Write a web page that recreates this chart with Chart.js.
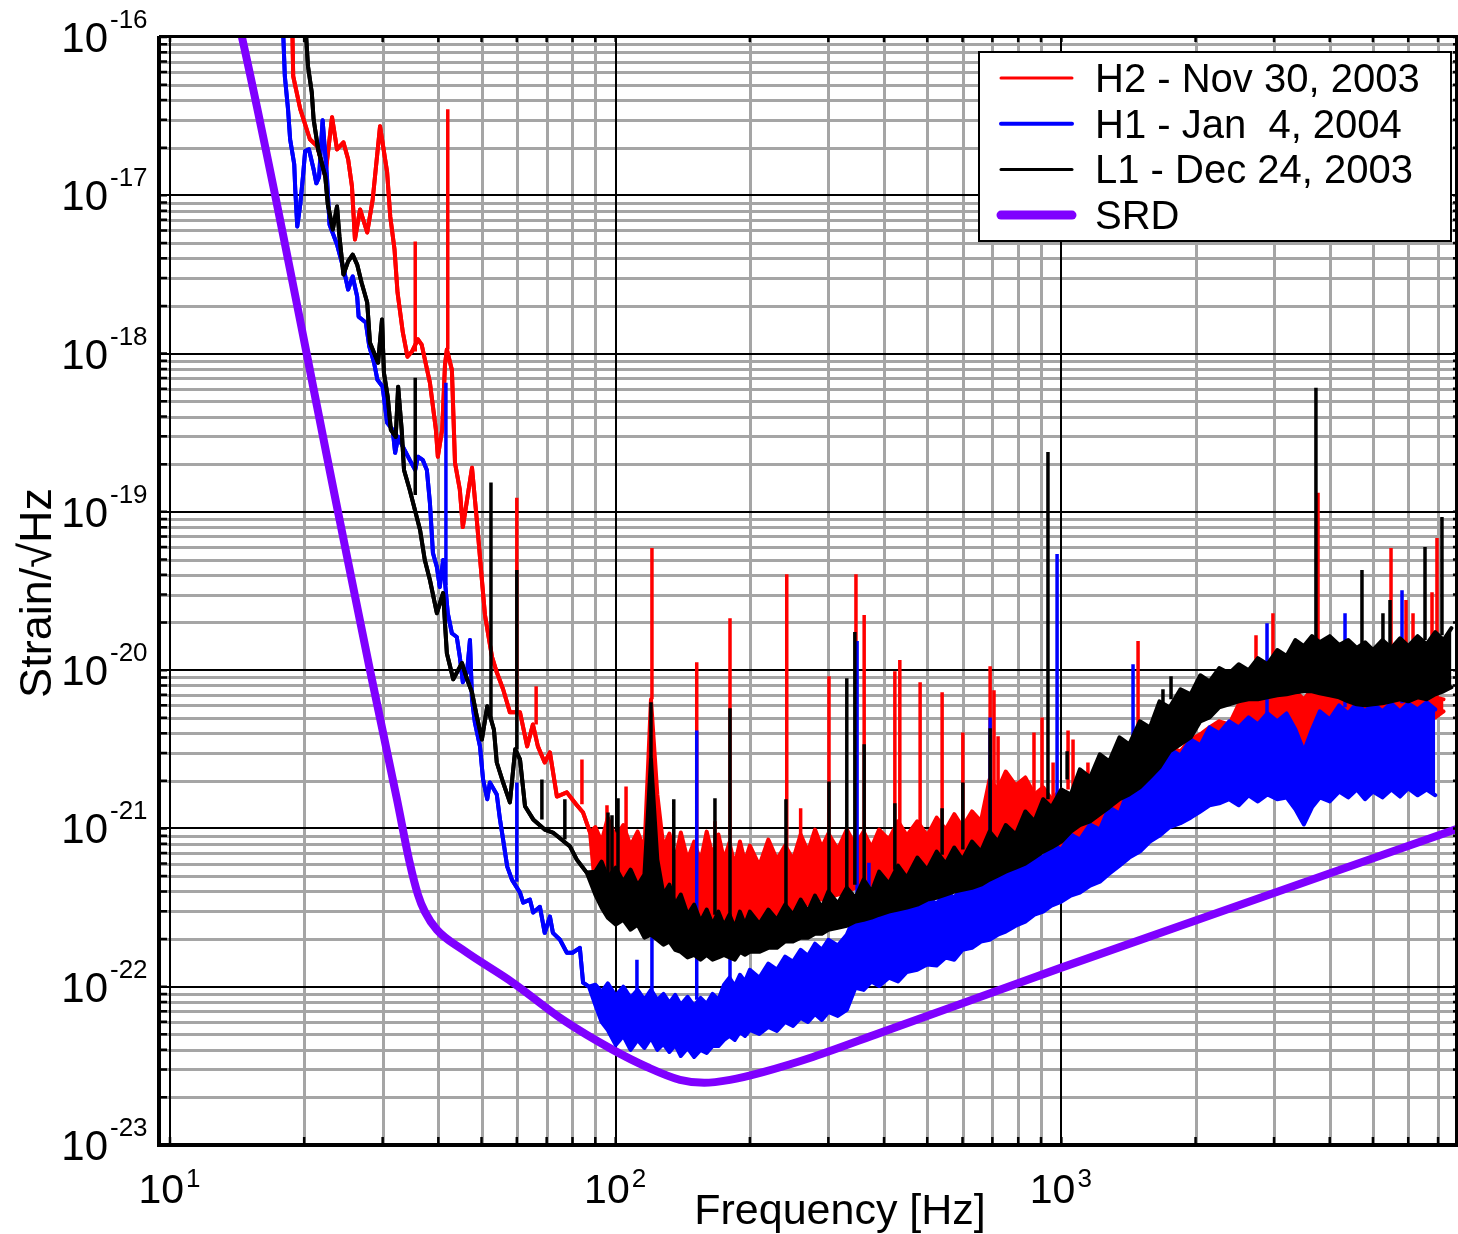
<!DOCTYPE html>
<html>
<head>
<meta charset="utf-8">
<title>Strain sensitivity</title>
<script src="https://cdn.jsdelivr.net/npm/chart.js@4.4.1/dist/chart.umd.min.js"></script>
<style>
  html, body { margin: 0; padding: 0; background: #ffffff; }
  #wrap { position: relative; width: 1458px; height: 1234px; }
</style>
</head>
<body>
<div id="wrap"><canvas id="chart"></canvas></div>
<script>
// ---------------------------------------------------------------
// Axis ranges and labels
// ---------------------------------------------------------------
const xRange = [9.448, 7760];          // Hz
const yRange = [1e-23, 1e-16];         // strain / sqrt(Hz)
const xExponents = [1, 2, 3];
const yExponents = [-16, -17, -18, -19, -20, -21, -22, -23];
const xTitle = 'Frequency [Hz]';
const yTitle = 'Strain/\u221AHz';
const legendLabels = ['H2 - Nov 30, 2003', 'H1 - Jan  4, 2004', 'L1 - Dec 24, 2003', 'SRD'];
const seriesColors = { h2: '#ff0000', h1: '#0000ff', l1: '#000000', srd: '#7f00ff' };

// ---------------------------------------------------------------
// Low-frequency single traces: [frequency Hz, strain]
// ---------------------------------------------------------------
const h2Trace = [
  [18.8,1.28e-16],[18.9,5.65e-17],[19.6,3.50e-17],[20.6,2.26e-17],[21.4,2.04e-17],[22.3,1.32e-17],
  [23.1,3.11e-17],[23.7,1.95e-17],[24.5,2.16e-17],[25.1,1.69e-17],[25.6,1.14e-17],[26.0,5.26e-18],
  [26.7,8.14e-18],[27.7,5.82e-18],[28.5,9.42e-18],[29.6,2.73e-17],[30.7,1.40e-17],[31.2,7.35e-18],
  [31.9,4.54e-18],[32.4,2.43e-18],[33.3,1.36e-18],[34.1,9.55e-19],[34.9,1.03e-18],[36.0,1.23e-18],
  [36.7,1.14e-18],[38.3,6.54e-19],[39.5,3.30e-19],[39.9,2.23e-19],[40.8,3.30e-19],[41.4,8.50e-19],
  [41.8,1.06e-18],[42.9,7.91e-19],[43.6,2.04e-19],[44.7,1.38e-19],[45.4,8.02e-20],[46.4,1.19e-19],
  [47.6,1.90e-19],[48.8,8.88e-20],[50.1,3.71e-20],[50.9,2.23e-20],[51.7,1.71e-20],[52.8,1.21e-20],
  [54.1,9.69e-21],[55.9,7.57e-21],[57.9,5.41e-21],[61.0,5.41e-21],[63.3,3.30e-21],[65.2,4.54e-21],
  [66.9,3.30e-21],[69.3,2.61e-21],[71.2,3.02e-21],[73.8,1.59e-21],[77.7,1.69e-21],[81.5,1.42e-21],
  [84.5,1.26e-21],[87.6,9.42e-22]
];
const h1Trace = [
  [17.9,1.28e-16],[18.1,5.65e-17],[18.4,3.50e-17],[18.6,2.26e-17],[19.0,1.57e-17],[19.1,1.09e-17],
  [19.3,6.35e-18],[19.6,8.75e-18],[19.9,1.36e-17],[20.1,1.90e-17],[20.5,1.95e-17],[21.0,1.46e-17],
  [21.3,1.19e-17],[21.6,1.30e-17],[22.0,2.98e-17],[22.5,1.30e-17],[22.8,6.54e-18],[23.7,4.89e-18],
  [24.6,3.30e-18],[25.1,2.54e-18],[25.7,3.07e-18],[26.3,2.29e-18],[26.5,1.71e-18],[27.5,1.57e-18],
  [28.0,1.11e-18],[28.7,8.75e-19],[29.2,6.83e-19],[30.0,6.17e-19],[30.7,3.65e-19],[31.6,3.30e-19],
  [32.0,2.36e-19],[32.5,2.98e-19],[33.3,2.58e-19],[34.5,2.13e-19],[35.5,1.84e-19],[36.0,2.23e-19],
  [36.9,2.13e-19],[37.7,1.84e-19],[38.3,1.14e-19],[38.9,5.49e-20],[39.7,4.48e-20],[40.3,3.35e-20],
  [41.0,4.96e-20],[42.0,2.29e-20],[42.9,1.71e-20],[44.0,1.62e-20],[44.7,1.21e-20],[45.4,8.38e-21],
  [46.4,9.69e-21],[47.1,1.55e-20],[47.6,6.54e-21],[48.3,4.68e-21],[49.6,3.30e-21],[50.4,2.04e-21],
  [51.5,1.53e-21],[52.2,1.95e-21],[54.1,1.64e-21],[55.0,1.14e-21],[55.9,8.50e-22],[57.1,5.74e-22],
  [58.5,4.75e-22],[61.0,3.93e-22],[62.0,3.40e-22],[64.2,3.55e-22],[65.3,2.94e-22],[67.6,3.20e-22],
  [69.3,2.19e-22],[71.2,2.77e-22],[72.3,2.19e-22],[75.0,1.98e-22],[77.7,1.64e-22],[80.0,1.64e-22],
  [83.1,1.76e-22],[84.5,1.06e-22],[87.1,1.00e-22]
];
const l1Trace = [
  [20.1,1.28e-16],[20.4,6.54e-17],[20.8,4.48e-17],[21.0,3.02e-17],[21.5,1.95e-17],[22.3,1.32e-17],
  [22.6,8.75e-18],[23.2,6.08e-18],[23.7,8.50e-18],[24.0,5.49e-18],[24.5,3.16e-18],[25.1,3.82e-18],
  [25.7,4.22e-18],[26.3,3.65e-18],[26.9,2.81e-18],[27.7,2.10e-18],[28.1,1.17e-18],[29.3,8.75e-19],
  [29.9,1.64e-18],[30.2,7.57e-19],[30.8,5.33e-19],[31.3,3.30e-19],[32.1,2.98e-19],[32.5,6.17e-19],
  [33.1,3.30e-19],[33.5,1.84e-19],[34.5,1.38e-19],[36.4,7.68e-20],[37.3,4.96e-20],[38.3,3.71e-20],
  [39.7,2.29e-20],[41.0,3.07e-20],[41.8,1.28e-20],[43.2,8.75e-21],[45.2,1.11e-20],[46.4,8.75e-21],
  [47.6,7.24e-21],[48.8,5.11e-21],[50.1,3.65e-21],[51.5,5.91e-21],[53.3,4.22e-21],[54.1,2.61e-21],
  [55.9,1.95e-21],[57.9,1.46e-21],[59.5,3.16e-21],[61.0,2.73e-21],[62.6,1.38e-21],[65.3,1.14e-21],
  [69.3,9.84e-22],[72.3,9.42e-22],[79.0,7.68e-22],[81.8,6.35e-22],[86.1,5.26e-22]
];

// ---------------------------------------------------------------
// Broadband noise floor above 90 Hz: upper / lower envelope per band frequency
// ---------------------------------------------------------------
const bandFreq = [
  90, 93, 96, 100, 104, 108, 112, 116, 120, 124,
  128, 132, 136, 140, 145, 150, 155, 160, 165, 170,
  175, 180, 185, 190, 195, 200, 210, 220, 230, 240,
  250, 260, 270, 280, 290, 300, 315, 330, 345, 360,
  375, 390, 410, 430, 450, 475, 500, 525, 550, 575,
  600, 630, 660, 690, 720, 750, 790, 830, 870, 910,
  950, 1000, 1050, 1100, 1160, 1220, 1280, 1350, 1420, 1500,
  1580, 1660, 1750, 1850, 1950, 2050, 2150, 2260, 2380, 2500,
  2630, 2760, 2900, 3050, 3200, 3350, 3500, 3650, 3800, 4000,
  4200, 4400, 4600, 4800, 5000, 5250, 5500, 5750, 6000, 6300,
  6600, 6900, 7200, 7500
];

const h2Upper = [
  1.02e-21, 8.26e-22, 1.17e-21, 8.75e-22, 1.05e-21, 7.79e-22, 9.55e-22, 7.35e-22, 6.54e-21, 1.64e-21,
  7.57e-22, 9.28e-22, 6.35e-22, 9.42e-22, 6.35e-22, 8.26e-22, 6.17e-22, 9.55e-22, 6.73e-22, 9.15e-22,
  6.35e-22, 8.14e-22, 5.82e-22, 8.26e-22, 6.17e-22, 7.79e-22, 5.82e-22, 8.50e-22, 6.35e-22, 7.79e-22,
  6.35e-22, 9.15e-22, 7.14e-22, 9.84e-22, 7.57e-22, 9.28e-22, 7.35e-22, 9.84e-22, 7.79e-22, 9.55e-22,
  7.57e-22, 9.84e-22, 8.50e-22, 1.11e-21, 9.01e-22, 1.11e-21, 9.01e-22, 1.17e-21, 9.84e-22, 1.23e-21,
  1.02e-21, 1.28e-21, 1.11e-21, 2.04e-21, 1.76e-21, 2.29e-21, 1.87e-21, 2.10e-21, 1.64e-21, 1.82e-21,
  1.53e-21, 1.76e-21, 1.53e-21, 1.76e-21, 1.53e-21, 1.90e-21, 1.64e-21, 2.10e-21, 1.90e-21, 2.54e-21,
  3.07e-21, 2.81e-21, 3.25e-21, 3.07e-21, 3.65e-21, 3.93e-21, 4.35e-21, 4.75e-21, 4.54e-21, 6.08e-21,
  6.54e-21, 7.04e-21, 7.57e-21, 7.79e-21, 7.57e-21, 7.35e-21, 6.54e-21, 7.57e-21, 8.14e-21, 7.79e-21,
  7.57e-21, 7.04e-21, 6.54e-21, 6.73e-21, 6.35e-21, 6.73e-21, 6.35e-21, 6.73e-21, 6.35e-21, 6.73e-21,
  6.35e-21, 6.73e-21, 6.54e-21
];
const h2Lower = [
  4.10e-22, 3.55e-22, 3.30e-22, 3.07e-22, 3.30e-22, 2.98e-22, 3.16e-22, 2.89e-22, 3.55e-22, 3.16e-22,
  2.85e-22, 2.73e-22, 2.65e-22, 2.65e-22, 2.58e-22, 2.47e-22, 2.47e-22, 2.58e-22, 2.47e-22, 2.58e-22,
  2.47e-22, 2.65e-22, 2.58e-22, 2.73e-22, 2.65e-22, 2.73e-22, 2.65e-22, 2.85e-22, 2.85e-22, 2.98e-22,
  3.07e-22, 3.30e-22, 3.30e-22, 3.55e-22, 3.55e-22, 3.65e-22, 3.82e-22, 3.99e-22, 4.22e-22, 4.22e-22,
  4.41e-22, 4.54e-22, 4.75e-22, 4.89e-22, 5.11e-22, 5.33e-22, 5.65e-22, 5.91e-22, 6.17e-22, 6.54e-22,
  6.83e-22, 7.35e-22, 7.57e-22, 7.91e-22, 8.26e-22, 8.75e-22, 9.15e-22, 9.84e-22, 1.06e-21, 1.14e-21,
  1.23e-21, 7.35e-22, 7.91e-22, 8.26e-22, 9.15e-22, 9.84e-22, 1.14e-21, 1.28e-21, 1.48e-21, 1.71e-21,
  1.90e-21, 2.10e-21, 2.36e-21, 2.54e-21, 2.81e-21, 3.07e-21, 3.25e-21, 3.40e-21, 3.55e-21, 3.65e-21,
  3.76e-21, 3.93e-21, 4.10e-21, 3.93e-21, 3.65e-21, 3.16e-21, 2.65e-21, 3.40e-21, 4.35e-21, 4.54e-21,
  4.75e-21, 4.89e-21, 4.75e-21, 5.03e-21, 4.75e-21, 4.89e-21, 5.03e-21, 4.89e-21, 5.18e-21, 5.03e-21,
  5.26e-21, 5.03e-21, 5.49e-21
];

const h1Upper = [
  1.03e-22, 9.28e-23, 1.05e-22, 8.75e-23, 1.00e-22, 8.50e-23, 9.55e-23, 8.26e-23, 9.55e-23, 8.26e-23,
  9.01e-23, 7.91e-23, 8.88e-23, 7.68e-23, 8.63e-23, 7.57e-23, 8.50e-23, 7.79e-23, 9.01e-23, 8.26e-23,
  1.03e-22, 1.14e-22, 1.01e-22, 1.19e-22, 1.08e-22, 1.28e-22, 1.14e-22, 1.40e-22, 1.28e-22, 1.55e-22,
  1.44e-22, 1.71e-22, 1.57e-22, 1.87e-22, 1.71e-22, 1.98e-22, 1.82e-22, 2.13e-22, 2.85e-22, 2.58e-22,
  3.07e-22, 2.77e-22, 3.25e-22, 2.94e-22, 3.45e-22, 3.16e-22, 3.65e-22, 3.35e-22, 3.99e-22, 3.65e-22,
  4.35e-22, 3.99e-22, 4.89e-22, 4.48e-22, 5.49e-22, 5.03e-22, 6.17e-22, 5.65e-22, 7.14e-22, 6.54e-22,
  7.91e-22, 7.35e-22, 9.15e-22, 8.50e-22, 1.06e-21, 9.84e-22, 1.36e-21, 1.24e-21, 1.82e-21, 1.66e-21,
  2.54e-21, 2.29e-21, 3.16e-21, 2.89e-21, 3.65e-21, 3.35e-21, 4.35e-21, 3.99e-21, 4.75e-21, 4.35e-21,
  5.03e-21, 4.54e-21, 5.33e-21, 4.75e-21, 5.33e-21, 4.22e-21, 3.07e-21, 4.22e-21, 5.49e-21, 4.89e-21,
  5.99e-21, 5.33e-21, 6.17e-21, 5.49e-21, 6.17e-21, 5.49e-21, 6.17e-21, 5.49e-21, 6.17e-21, 5.65e-21,
  6.26e-21, 5.65e-21
];
const h1Lower = [
  7.68e-23, 5.99e-23, 5.33e-23, 4.29e-23, 4.89e-23, 3.99e-23, 4.61e-23, 4.10e-23, 4.75e-23, 3.99e-23,
  4.35e-23, 3.87e-23, 4.29e-23, 3.65e-23, 4.10e-23, 3.60e-23, 3.99e-23, 3.82e-23, 4.22e-23, 4.22e-23,
  4.61e-23, 4.89e-23, 4.61e-23, 5.18e-23, 4.89e-23, 5.33e-23, 5.03e-23, 5.57e-23, 5.26e-23, 5.99e-23,
  5.65e-23, 6.35e-23, 5.99e-23, 6.73e-23, 6.17e-23, 6.93e-23, 6.54e-23, 7.14e-23, 9.84e-23, 9.55e-23,
  1.08e-22, 1.01e-22, 1.14e-22, 1.08e-22, 1.24e-22, 1.28e-22, 1.38e-22, 1.36e-22, 1.53e-22, 1.48e-22,
  1.71e-22, 1.76e-22, 1.93e-22, 1.98e-22, 2.13e-22, 2.23e-22, 2.43e-22, 2.58e-22, 2.85e-22, 2.98e-22,
  3.25e-22, 3.45e-22, 3.76e-22, 3.93e-22, 4.35e-22, 4.61e-22, 5.18e-22, 5.82e-22, 6.54e-22, 7.14e-22,
  8.26e-22, 9.01e-22, 1.02e-21, 1.08e-21, 1.17e-21, 1.28e-21, 1.40e-21, 1.44e-21, 1.53e-21, 1.40e-21,
  1.62e-21, 1.48e-21, 1.64e-21, 1.53e-21, 1.57e-21, 1.32e-21, 1.06e-21, 1.36e-21, 1.57e-21, 1.48e-21,
  1.71e-21, 1.57e-21, 1.76e-21, 1.53e-21, 1.71e-21, 1.57e-21, 1.76e-21, 1.59e-21, 1.79e-21, 1.62e-21,
  1.76e-21, 1.62e-21
];

const l1Upper = [
  5.33e-22, 6.17e-22, 4.89e-22, 5.65e-22, 4.61e-22, 5.49e-22, 4.35e-22, 5.11e-22, 2.73e-21, 6.35e-22,
  3.82e-22, 4.41e-22, 3.30e-22, 3.82e-22, 2.85e-22, 3.30e-22, 2.58e-22, 3.07e-22, 2.47e-22, 2.98e-22,
  2.43e-22, 2.85e-22, 2.36e-22, 2.98e-22, 2.47e-22, 2.98e-22, 2.50e-22, 3.07e-22, 2.65e-22, 3.30e-22,
  2.85e-22, 3.55e-22, 2.98e-22, 3.76e-22, 3.16e-22, 3.99e-22, 3.35e-22, 4.22e-22, 3.65e-22, 4.75e-22,
  3.99e-22, 5.33e-22, 4.48e-22, 5.82e-22, 4.89e-22, 6.54e-22, 5.49e-22, 7.14e-22, 5.99e-22, 7.57e-22,
  6.35e-22, 8.26e-22, 7.14e-22, 9.55e-22, 8.26e-22, 1.05e-21, 9.15e-22, 1.28e-21, 1.11e-21, 1.53e-21,
  1.36e-21, 1.76e-21, 1.64e-21, 2.36e-21, 2.10e-21, 2.94e-21, 2.65e-21, 3.76e-21, 3.40e-21, 4.75e-21,
  4.35e-21, 6.35e-21, 5.82e-21, 7.57e-21, 7.04e-21, 9.28e-21, 8.50e-21, 1.03e-20, 9.55e-21, 1.09e-20,
  1.00e-20, 1.19e-20, 1.09e-20, 1.34e-20, 1.23e-20, 1.55e-20, 1.42e-20, 1.64e-20, 1.50e-20, 1.64e-20,
  1.44e-20, 1.55e-20, 1.38e-20, 1.50e-20, 1.34e-20, 1.55e-20, 1.38e-20, 1.59e-20, 1.42e-20, 1.64e-20,
  1.46e-20, 1.74e-20, 1.55e-20, 1.84e-20
];
const l1Lower = [
  3.82e-22, 3.16e-22, 2.73e-22, 2.47e-22, 2.65e-22, 2.29e-22, 2.47e-22, 2.04e-22, 2.13e-22, 1.98e-22,
  1.84e-22, 1.93e-22, 1.71e-22, 1.66e-22, 1.53e-22, 1.59e-22, 1.48e-22, 1.59e-22, 1.48e-22, 1.53e-22,
  1.59e-22, 1.53e-22, 1.48e-22, 1.66e-22, 1.59e-22, 1.66e-22, 1.66e-22, 1.76e-22, 1.76e-22, 1.93e-22,
  1.93e-22, 2.04e-22, 2.04e-22, 2.16e-22, 2.16e-22, 2.29e-22, 2.36e-22, 2.43e-22, 2.58e-22, 2.65e-22,
  2.73e-22, 2.85e-22, 2.98e-22, 3.07e-22, 3.16e-22, 3.30e-22, 3.55e-22, 3.65e-22, 3.82e-22, 3.99e-22,
  4.10e-22, 4.22e-22, 4.41e-22, 4.75e-22, 5.03e-22, 5.33e-22, 5.65e-22, 5.99e-22, 6.54e-22, 7.14e-22,
  7.57e-22, 8.26e-22, 9.55e-22, 1.05e-21, 1.11e-21, 1.23e-21, 1.36e-21, 1.53e-21, 1.64e-21, 1.82e-21,
  2.10e-21, 2.43e-21, 3.07e-21, 3.40e-21, 3.76e-21, 4.75e-21, 5.03e-21, 5.82e-21, 6.08e-21, 6.35e-21,
  6.54e-21, 6.54e-21, 6.73e-21, 6.93e-21, 7.04e-21, 7.24e-21, 7.35e-21, 7.35e-21, 7.14e-21, 6.93e-21,
  6.73e-21, 6.35e-21, 6.08e-21, 5.99e-21, 6.08e-21, 6.17e-21, 6.35e-21, 6.54e-21, 6.35e-21, 6.73e-21,
  6.54e-21, 7.04e-21, 7.35e-21, 7.79e-21
];

// ---------------------------------------------------------------
// Narrow spectral lines: [frequency Hz, floor, peak]
// ---------------------------------------------------------------
const h2Lines = [
  [35.5,1.03e-18,5.11e-18],[42.0,1.06e-18,3.50e-17],[60.0,5.41e-21,1.23e-19],[66.3,4.54e-21,7.91e-21],
  [84.0,1.42e-21,2.73e-21],[95.6,8.26e-22,1.40e-21],[105.5,9.15e-22,1.84e-21],[120.6,6.54e-21,5.91e-20],
  [152,7.35e-22,1.12e-20],[167,7.35e-22,1.11e-21],[180.5,7.35e-22,2.13e-20],[242,7.35e-22,4.04e-20],
  [260,7.35e-22,1.34e-21],[301,7.91e-22,9.15e-21],[346,8.50e-22,4.04e-20],[361,8.50e-22,2.23e-20],
  [423,9.15e-22,9.84e-21],[434,9.15e-22,1.16e-20],[482,9.84e-22,8.38e-21],[540,1.06e-21,7.24e-21],
  [601,1.11e-21,4.04e-21],[692,1.76e-21,1.06e-20],[706,1.76e-21,7.46e-21],[721,1.76e-21,3.82e-21],
  [868,1.64e-21,4.04e-21],[905,1.64e-21,5.03e-21],[958,1.53e-21,2.61e-21],[1035,1.76e-21,4.16e-21],
  [1062,1.76e-21,3.65e-21],[1147,1.53e-21,2.61e-21],[1486,2.54e-21,1.53e-20],[2733,6.54e-21,1.66e-20],
  [2983,7.04e-21,2.29e-20],[3765,7.57e-21,1.32e-19],[5490,6.54e-21,5.91e-20],[5932,6.54e-21,2.77e-20],
  [6151,6.54e-21,2.29e-20],[6785,6.54e-21,3.11e-20],[6961,6.54e-21,6.83e-20]
];
const h1Lines = [
  [41.6,3.45e-20,6.54e-19],[60.0,4.61e-22,1.95e-21],[111.6,8.88e-23,1.48e-22],[120.6,8.88e-23,5.82e-22],
  [152,8.26e-23,4.16e-21],[180.5,9.55e-23,1.84e-22],[348,2.85e-22,1.53e-20],[370,3.07e-22,6.08e-22],
  [692,4.75e-22,5.03e-21],[978,7.57e-22,5.41e-20],[1448,1.98e-21,1.09e-20],[2893,5.26e-21,1.98e-20],
  [4329,5.82e-21,2.29e-20],[5811,6.17e-21,3.20e-20]
];
const l1Lines = [
  [35.5,1.28e-19,7.04e-19],[52.5,4.89e-21,1.53e-19],[60.0,3.16e-21,4.29e-20],[68.3,1.14e-21,2.04e-21],
  [76.9,8.50e-22,1.53e-21],[96.1,4.75e-22,1.26e-21],[98.1,4.75e-22,1.21e-21],[101.2,4.75e-22,1.55e-21],
  [120,2.73e-21,6.26e-21],[135,3.30e-22,1.53e-21],[167,2.85e-22,1.55e-21],[180.5,2.65e-22,5.74e-21],
  [241,3.07e-22,1.53e-21],[301,3.55e-22,1.98e-21],[330,4.10e-22,8.88e-21],[344,4.41e-22,1.74e-20],
  [361,4.41e-22,3.40e-21],[423,5.49e-22,1.44e-21],[540,6.83e-22,1.34e-21],[601,7.35e-22,1.95e-21],
  [692,9.15e-22,4.29e-21],[933,1.53e-21,2.39e-19],[1030,2.04e-21,3.07e-21],[1690,6.08e-21,7.57e-21],
  [1762,6.54e-21,9.15e-21],[3725,1.44e-20,6.08e-19],[4725,1.38e-20,4.29e-20],[5266,1.44e-20,2.29e-20],
  [5462,1.44e-20,2.77e-20],[6544,1.55e-20,5.99e-20],[7143,1.66e-20,9.28e-20]
];

// ---------------------------------------------------------------
// Design sensitivity curve: [frequency Hz, strain]
// ---------------------------------------------------------------
const srdCurve = [
  [13.8,1.76e-16],[14.5,1.0e-16],[24.1,8.50e-20],[28.1,1.0e-20],[32.3,1.53e-21],[34.5,6.08e-22],
  [36.0,3.82e-22],[37.3,2.98e-22],[39.7,2.29e-22],[45.4,1.71e-22],[58.8,1.06e-22],[76.2,6.17e-23],
  [98.6,3.99e-23],[117.6,3.11e-23],[139.4,2.58e-23],[158,2.47e-23],[180.5,2.58e-23],[214,2.89e-23],
  [277,3.60e-23],[392,5.11e-23],[1000,1.32e-22],[7760,1.0e-21]
];

// ---------------------------------------------------------------
// Dataset builders
// ---------------------------------------------------------------
const toPoints = pairs => pairs.map(([f, s]) => ({ x: f, y: s }));
const envelope = (trace, values) =>
  toPoints(trace).concat(values.map((v, i) => ({ x: bandFreq[i], y: v })));
const linePoints = list => {
  const out = [];
  for (const [f, floor, peak] of list) {
    out.push({ x: f, y: floor }, { x: f, y: peak }, { x: f, y: null });
  }
  return out;
};

function bandPair(label, color, trace, upper, lower) {
  const common = {
    borderColor: color, backgroundColor: color, borderWidth: 4,
    pointRadius: 0, tension: 0, borderJoinStyle: 'round', borderCapStyle: 'round', spanGaps: false
  };
  return [
    Object.assign({ label: label, data: envelope(trace, upper), fill: '+1' }, common),
    Object.assign({ label: label + ' floor', data: envelope(trace, lower), fill: false }, common)
  ];
}
function lineSet(label, color, list) {
  return {
    label: label + ' lines', data: linePoints(list), borderColor: color,
    borderWidth: 3.5, pointRadius: 0, fill: false, spanGaps: false, borderCapStyle: 'butt'
  };
}

// first dataset is drawn on top
const datasets = [
  lineSet('L1', seriesColors.l1, l1Lines),
  ...bandPair('L1', seriesColors.l1, l1Trace, l1Upper, l1Lower),
  lineSet('H1', seriesColors.h1, h1Lines),
  ...bandPair('H1', seriesColors.h1, h1Trace, h1Upper, h1Lower),
  lineSet('H2', seriesColors.h2, h2Lines),
  ...bandPair('H2', seriesColors.h2, h2Trace, h2Upper, h2Lower),
  {
    label: 'SRD', data: toPoints(srdCurve), borderColor: seriesColors.srd,
    borderWidth: 8, pointRadius: 0, fill: false, cubicInterpolationMode: 'monotone',
    borderJoinStyle: 'round', borderCapStyle: 'round'
  }
];

// ---------------------------------------------------------------
// Grid, frame, tick labels, titles and legend
// ---------------------------------------------------------------
const FONT = '"Liberation Sans", Arial, Helvetica, sans-serif';

function decadeValues(lo, hi) {
  const minor = [], major = [];
  const e0 = Math.floor(Math.log10(lo)), e1 = Math.ceil(Math.log10(hi));
  for (let e = e0; e <= e1; e++) {
    const d = Math.pow(10, e);
    if (d >= lo * 0.999 && d <= hi * 1.001) major.push(d);
    for (let k = 2; k <= 9; k++) {
      const v = k * d;
      if (v > lo && v < hi) minor.push(v);
    }
  }
  return { minor, major };
}

const plotDecor = {
  id: 'plotDecor',
  beforeDatasetsDraw(chart) {
    const { ctx, chartArea: a, scales: { x, y } } = chart;
    const xs = decadeValues(xRange[0], xRange[1]);
    const ys = decadeValues(yRange[0], yRange[1]);
    ctx.save();
    ctx.lineCap = 'butt';
    ctx.strokeStyle = '#a5a5a5';
    ctx.lineWidth = 3;
    ctx.beginPath();
    for (const v of xs.minor) { const p = Math.round(x.getPixelForValue(v)) + 0.5; ctx.moveTo(p, a.top); ctx.lineTo(p, a.bottom); }
    for (const v of ys.minor) { const p = Math.round(y.getPixelForValue(v)) + 0.5; ctx.moveTo(a.left, p); ctx.lineTo(a.right, p); }
    ctx.stroke();
    ctx.strokeStyle = '#000';
    ctx.lineWidth = 2;
    ctx.beginPath();
    for (const v of xs.major) { const p = Math.round(x.getPixelForValue(v)); ctx.moveTo(p, a.top); ctx.lineTo(p, a.bottom); }
    for (const v of ys.major) { const p = Math.round(y.getPixelForValue(v)); ctx.moveTo(a.left, p); ctx.lineTo(a.right, p); }
    ctx.stroke();
    ctx.restore();
  },
  afterDatasetsDraw(chart) {
    const { ctx, chartArea: a, scales: { x, y } } = chart;
    const xs = decadeValues(xRange[0], xRange[1]);
    const ys = decadeValues(yRange[0], yRange[1]);
    ctx.save();
    // frame
    ctx.strokeStyle = '#000';
    ctx.lineWidth = 4;
    ctx.beginPath();
    ctx.moveTo(a.left, a.top - 1); ctx.lineTo(a.left, a.bottom + 2);
    ctx.moveTo(a.left, a.bottom); ctx.lineTo(a.right, a.bottom);
    ctx.stroke();
    ctx.lineWidth = 3;
    ctx.beginPath();
    ctx.moveTo(a.left, a.top - 0.5); ctx.lineTo(a.right, a.top - 0.5);
    ctx.moveTo(a.right - 1.5, a.top); ctx.lineTo(a.right - 1.5, a.bottom);
    ctx.stroke();
    // inward tick marks
    ctx.lineWidth = 2.5;
    ctx.beginPath();
    for (const v of ys.minor.concat(ys.major)) {
      const p = y.getPixelForValue(v);
      ctx.moveTo(a.left, p); ctx.lineTo(a.left + 8, p);
      ctx.moveTo(a.right, p); ctx.lineTo(a.right - 5, p);
    }
    for (const v of xs.minor.concat(xs.major)) {
      const p = x.getPixelForValue(v);
      ctx.moveTo(p, a.bottom); ctx.lineTo(p, a.bottom - 8);
      ctx.moveTo(p, a.top); ctx.lineTo(p, a.top + 5);
    }
    ctx.stroke();

    // legend
    const lx = a.right - 479, ly = a.top + 15, lw = 472, lh = 189;
    ctx.fillStyle = '#fff';
    ctx.fillRect(lx, ly, lw, lh);
    ctx.strokeStyle = '#000';
    ctx.lineWidth = 2;
    ctx.strokeRect(lx, ly, lw, lh);
    const keyColors = [seriesColors.h2, seriesColors.h1, seriesColors.l1, seriesColors.srd];
    const keyWidths = [3, 4, 3, 9];
    ctx.font = '40px ' + FONT;
    ctx.textAlign = 'left';
    ctx.textBaseline = 'alphabetic';
    legendLabels.forEach((txt, i) => {
      const yy = ly + 26 + i * 45.7;
      ctx.strokeStyle = keyColors[i];
      ctx.lineWidth = keyWidths[i];
      ctx.lineCap = 'round';
      ctx.beginPath(); ctx.moveTo(lx + 22, yy); ctx.lineTo(lx + 93, yy); ctx.stroke();
      ctx.fillStyle = '#000';
      ctx.fillText(txt, lx + 116, yy + 14);
    });
    ctx.restore();
  },
  afterDraw(chart) {
    const { ctx, chartArea: a, scales: { x, y } } = chart;
    ctx.save();
    ctx.fillStyle = '#000';
    ctx.textBaseline = 'alphabetic';
    // y tick labels: 10^n
    for (const e of yExponents) {
      const p = y.getPixelForValue(Math.pow(10, e));
      ctx.font = '42px ' + FONT; ctx.textAlign = 'right';
      ctx.fillText('10', a.left - 51, p + 15);
      ctx.font = '26px ' + FONT; ctx.textAlign = 'left';
      ctx.fillText(String(e), a.left - 49, p - 9);
    }
    // x tick labels
    for (const e of xExponents) {
      const p = x.getPixelForValue(Math.pow(10, e));
      ctx.font = '41px ' + FONT; ctx.textAlign = 'right';
      ctx.fillText('10', p + 14, a.bottom + 58);
      ctx.font = '26px ' + FONT; ctx.textAlign = 'left';
      ctx.fillText(String(e), p + 16, a.bottom + 42);
    }
    // axis titles
    ctx.font = '43px ' + FONT;
    ctx.textAlign = 'center';
    ctx.fillText(xTitle, 840, a.bottom + 79);
    ctx.save();
    ctx.translate(51, 593);
    ctx.rotate(-Math.PI / 2);
    ctx.font = '45px ' + FONT;
    ctx.fillText(yTitle, 0, 0);
    ctx.restore();
    ctx.restore();
  }
};

new Chart(document.getElementById('chart'), {
  type: 'line',
  data: { datasets },
  options: {
    responsive: true,
    maintainAspectRatio: false,
    devicePixelRatio: 1,
    animation: false,
    events: [],
    layout: { padding: { left: 159, top: 37, right: 0, bottom: 89 } },
    scales: {
      x: { type: 'logarithmic', min: xRange[0], max: xRange[1], bounds: 'data', display: false },
      y: { type: 'logarithmic', min: yRange[0], max: yRange[1], bounds: 'data', display: false }
    },
    plugins: { legend: { display: false }, tooltip: { enabled: false } }
  },
  plugins: [plotDecor]
});
</script>
</body>
</html>
